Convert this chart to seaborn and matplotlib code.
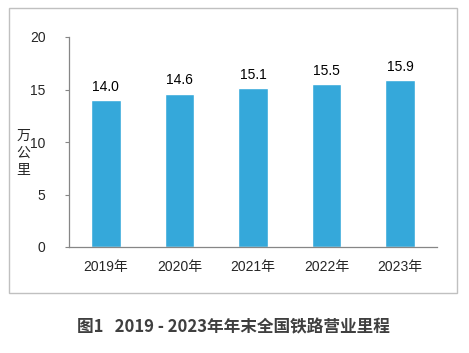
import pandas as pd
import seaborn as sns
import matplotlib.pyplot as plt
from matplotlib.patches import Rectangle

# Data
years = ['2019年', '2020年', '2021年', '2022年', '2023年']
mileage = [14.0, 14.6, 15.1, 15.5, 15.9]
y_ticks = [0, 5, 10, 15, 20]

df = pd.DataFrame({'year': years, 'mileage': mileage})

sns.set_style('white')
plt.rcParams['font.family'] = ['Liberation Sans', 'Noto Sans CJK SC', 'DejaVu Sans']

fig = plt.figure(figsize=(4.69, 3.53), dpi=100)
ax = fig.add_axes([69 / 469, 1 - 247 / 353, (437 - 69) / 469, (247 - 37) / 353])

sns.barplot(data=df, x='year', y='mileage', color='#35a8da', saturation=1,
            width=0.4, ax=ax)

# Value labels
for i, v in enumerate(mileage):
    ax.text(i, v + 0.6, f'{v:.1f}', ha='center', va='bottom', fontsize=10, color='#000000')

ax.set_ylim(0, 20)
ax.set_yticks(y_ticks)
ax.set_xlim(-0.5, 4.5)
ax.set_xlabel('')
ax.set_ylabel('')
for s in ['top', 'right']:
    ax.spines[s].set_visible(False)
for s in ['left', 'bottom']:
    ax.spines[s].set_color('#868686')
    ax.spines[s].set_linewidth(0.9)
ax.tick_params(axis='y', length=3, color='#868686', labelsize=10, pad=14, left=True)
ax.tick_params(axis='x', length=0, labelsize=10, pad=9)

# Stacked vertical unit label
fig.text(23 / 469, 1 - 153 / 353, '万\n公\n里', ha='center', va='center', fontsize=10,
         linespacing=1.25, family=['Noto Sans CJK SC', 'DejaVu Sans'])

# Outer frame
fig.patches.append(Rectangle((9 / 469, 1 - 293 / 353), (457 - 9) / 469, (293 - 8) / 353,
                             transform=fig.transFigure, fill=False,
                             edgecolor='#c0c0c0', linewidth=1))

# Caption
fig.text(233 / 469, 1 - 327 / 353, '图1   2019 - 2023年年末全国铁路营业里程', ha='center', va='center',
         fontsize=12, fontweight='bold', color='#3f3f3f',
         family=['Noto Sans CJK SC', 'DejaVu Sans'])

plt.savefig('out.png', dpi=100)
